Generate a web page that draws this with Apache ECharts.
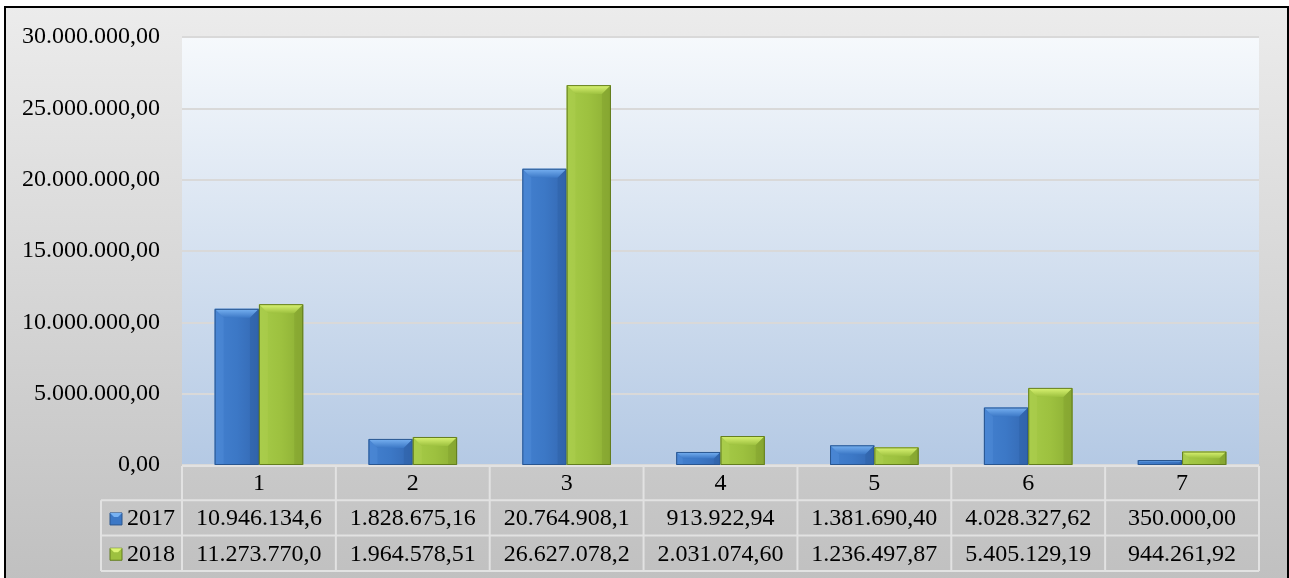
<!DOCTYPE html>
<html>
<head>
<meta charset="utf-8">
<script src="https://cdn.jsdelivr.net/npm/echarts@6/dist/echarts.min.js"></script>
<style>
html,body{margin:0;padding:0;background:#fff;}
#chart{width:1289px;height:578px;}
</style>
</head>
<body>
<div id="chart"></div>
<script>
const categories = ['1','2','3','4','5','6','7'];
const seriesNames = ['2017','2018'];
const values2017 = [10946134.6, 1828675.16, 20764908.1, 913922.94, 1381690.40, 4028327.62, 350000.00];
const values2018 = [11273770.0, 1964578.51, 26627078.2, 2031074.60, 1236497.87, 5405129.19, 944261.92];
const table2017 = ['10.946.134,6','1.828.675,16','20.764.908,1','913.922,94','1.381.690,40','4.028.327,62','350.000,00'];
const table2018 = ['11.273.770,0','1.964.578,51','26.627.078,2','2.031.074,60','1.236.497,87','5.405.129,19','944.261,92'];
const yTicks = [0, 5000000, 10000000, 15000000, 20000000, 25000000, 30000000];

const FONT = '"Liberation Serif", "Times New Roman", serif';

const palettes = [
  {main: ['#4380cf','#3c78c6','#3468b2'], top: '#78b2f2', left: '#5592dc', right: '#2c5d9f', bottom: '#2a5894', stroke: '#2a568f'},
  {main: ['#a6cb48','#9dc13f','#8cae34'], top: '#dcf575', left: '#b2d252', right: '#7b982a', bottom: '#6f8a24', stroke: '#637d1f'}
];

function fmt(v){
  const s = Math.round(v).toString().replace(/\B(?=(\d{3})+(?!\d))/g, '.');
  return s + ',00';
}

function makeRender(si){
  return function(params, api){
    const cat = api.value(0), val = api.value(1);
    const base = api.coord([cat, 0]);
    const top = api.coord([cat, val]);
    const band = api.size([1, 0])[0];
    const bw = band * 0.288;
    const x0 = si === 0 ? base[0] - bw : base[0];
    const x1 = x0 + bw;
    const y0 = top[1], y1 = base[1];
    const h = y1 - y0;
    const b = Math.max(0, Math.min(9, h / 2, bw / 2));
    const p = palettes[si];
    const grad = new echarts.graphic.LinearGradient(0,0,1,0,[
      {offset:0,color:p.main[0]},{offset:0.5,color:p.main[1]},{offset:1,color:p.main[2]}]);
    const topGrad = new echarts.graphic.LinearGradient(0,0,0,1,[
      {offset:0,color:p.top},{offset:1,color:p.main[1]}]);
    return {type:'group', children:[
      {type:'rect', shape:{x:x0,y:y0,width:bw,height:h}, style:{fill:grad}},
      {type:'polygon', shape:{points:[[x0,y0],[x1,y0],[x1-b,y0+b],[x0+b,y0+b]]}, style:{fill:topGrad}},
      {type:'polygon', shape:{points:[[x0,y0],[x0+b,y0+b],[x0+b,y1],[x0,y1]]}, style:{fill:p.left, opacity:0.35}},
      {type:'polygon', shape:{points:[[x1,y0],[x1-b,y0+b],[x1-b,y1],[x1,y1]]}, style:{fill:p.right, opacity:0.35}},
      {type:'rect', shape:{x:x0+0.5,y:y0+0.5,width:bw-1,height:Math.max(0,h-1)}, style:{fill:null, stroke:p.stroke, lineWidth:1}}
    ]};
  };
}

const chart = echarts.init(document.getElementById('chart'), null, {renderer:'canvas'});
const option = {
  animation: false,
  backgroundColor: '#ffffff',
  grid: {
    left: 182, right: 30, top: 37, bottom: 113, containLabel: false,
    show: true, borderWidth: 0,
    backgroundColor: new echarts.graphic.LinearGradient(0,0,0,1,[
      {offset:0,color:'#f6f9fc'},{offset:1,color:'#b4c9e4'}])
  },
  xAxis: {
    type: 'category', data: categories,
    axisLine: {show:false}, axisTick: {show:false}, axisLabel: {show:false}, splitLine: {show:false}
  },
  yAxis: {
    type: 'value', min: 0, max: 30000000, interval: 5000000,
    axisLine: {show:false}, axisTick: {show:false},
    axisLabel: {margin: 22, fontFamily: FONT, fontSize: 24, color: '#000', formatter: v => fmt(v)},
    splitLine: {show:true, lineStyle:{color:'#d9d9d9', width:2}}
  },
  series: [
    {name: seriesNames[0], type:'custom', renderItem: makeRender(0), clip: true,
     data: values2017.map((v,i)=>[i,v]), encode:{x:0,y:1}, z: 3},
    {name: seriesNames[1], type:'custom', renderItem: makeRender(1), clip: true,
     data: values2018.map((v,i)=>[i,v]), encode:{x:0,y:1}, z: 3}
  ]
};
chart.setOption(option);

// Build outer frame & data table from the axis geometry
const band = chart.convertToPixel({xAxisIndex:0}, 1) - chart.convertToPixel({xAxisIndex:0}, 0);
const baseY = chart.convertToPixel({yAxisIndex:0}, 0);
const leftX = chart.convertToPixel({xAxisIndex:0}, 0) - band/2;
const rightX = chart.convertToPixel({xAxisIndex:0}, categories.length-1) + band/2;
const rowH = 35.3;
const legendLeft = 101;
const lineStyle = {stroke:'#e2e2e2', lineWidth:2};
const g = [];
g.push({type:'rect', z:-100, silent:true, shape:{x:5,y:7,width:1283,height:600},
  style:{fill:new echarts.graphic.LinearGradient(0,0,0,1,[{offset:0,color:'#ececec'},{offset:1,color:'#bebebe'}]),
         stroke:'#000', lineWidth:2}});
const yTop = baseY + 1;
const y1 = baseY + rowH, y2 = baseY + 2*rowH, y3 = baseY + 3*rowH;
function line(xa,ya,xb,yb){ g.push({type:'line', z:5, silent:true, shape:{x1:xa,y1:ya,x2:xb,y2:yb}, style:lineStyle}); }
line(leftX, yTop, rightX, yTop);
line(legendLeft, y1, rightX, y1);
line(legendLeft, y2, rightX, y2);
line(legendLeft, y3, rightX, y3);
line(legendLeft, y1, legendLeft, y3);
for (let i=0;i<=categories.length;i++){
  const x = leftX + i*band;
  line(x, yTop, x, y3);
}
const tFont = {fontFamily: FONT, fontSize: 24, fill:'#000'};
categories.forEach((c,i)=>{
  const cx = chart.convertToPixel({xAxisIndex:0}, i);
  g.push({type:'text', z:6, silent:true, x:cx, y:(yTop+y1)/2+1, style:Object.assign({text:c, align:'center', verticalAlign:'middle'}, tFont)});
  g.push({type:'text', z:6, silent:true, x:cx, y:(y1+y2)/2+1, style:Object.assign({text:table2017[i], align:'center', verticalAlign:'middle'}, tFont)});
  g.push({type:'text', z:6, silent:true, x:cx, y:(y2+y3)/2+1, style:Object.assign({text:table2018[i], align:'center', verticalAlign:'middle'}, tFont)});
});
// legend keys
[[y1,y2],[y2,y3]].forEach((r,si)=>{
  const cy = (r[0]+r[1])/2;
  const p = palettes[si];
  const kx = 110, ks = 12, kb = 4;
  g.push({type:'rect', z:6, silent:true, shape:{x:kx,y:cy-ks/2+1,width:ks,height:ks}, style:{fill:p.main[1], stroke:p.stroke, lineWidth:1}});
  g.push({type:'polygon', z:7, silent:true, shape:{points:[[kx,cy-ks/2+1],[kx+ks,cy-ks/2+1],[kx+ks-kb,cy-ks/2+1+kb],[kx+kb,cy-ks/2+1+kb]]}, style:{fill:p.top}});
  g.push({type:'text', z:6, silent:true, x:127, y:cy+1, style:Object.assign({text:seriesNames[si], align:'left', verticalAlign:'middle'}, tFont)});
});
chart.setOption({graphic: g});
</script>
</body>
</html>
